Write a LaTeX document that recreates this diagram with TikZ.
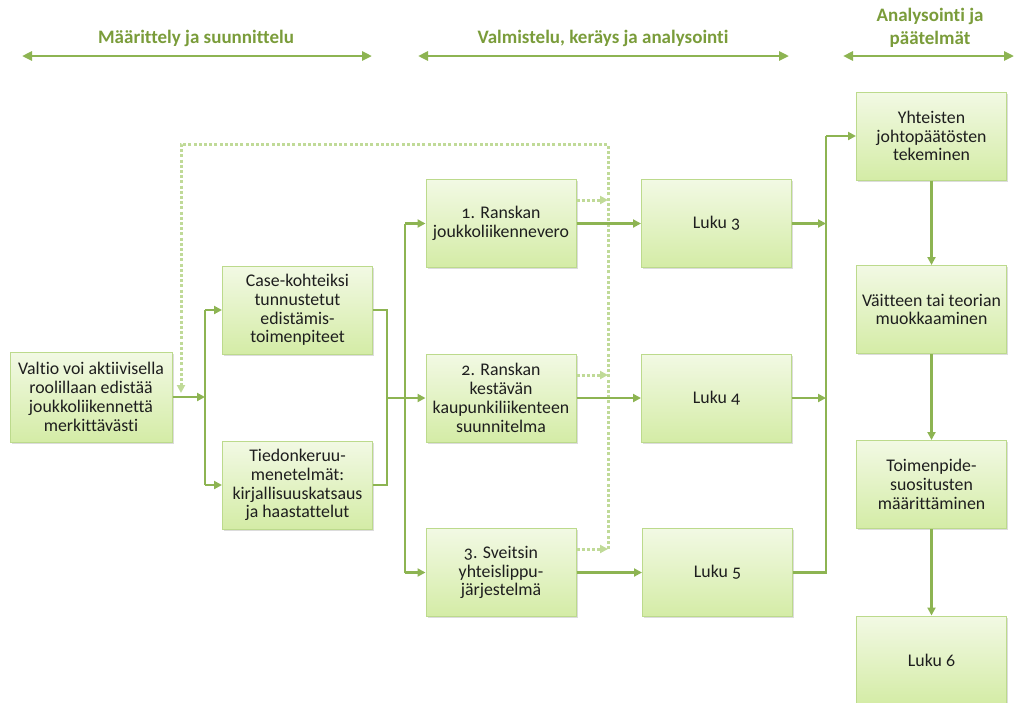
\documentclass[tikz,border=0pt]{standalone}
\usepackage{fontspec}
\setmainfont{Carlito}[Numbers=OldStyle, Ligatures=NoCommon]
\usetikzlibrary{arrows.meta,shadows,calc}
\definecolor{flowgreen}{RGB}{141,180,82}
\definecolor{headgreen}{RGB}{122,156,58}
\definecolor{dotgreen}{RGB}{192,218,152}
\definecolor{boxtop}{RGB}{242,249,228}
\definecolor{boxbot}{RGB}{212,236,166}
\definecolor{boxline}{RGB}{188,218,140}
\definecolor{textgray}{RGB}{30,30,30}
\begin{document}
\begin{tikzpicture}[x=1pt,y=-1pt,
  stage/.style={draw=boxline, line width=1pt, top color=boxtop, bottom color=boxbot,
    align=center, font=\fontsize{17.8}{18.8}\selectfont, text=textgray, inner sep=2pt,
    drop shadow={shadow xshift=1.5pt, shadow yshift=-1.5pt, opacity=0.3, fill=black!45}},
  wide/.style={minimum width=162pt, minimum height=90pt},
  std/.style={minimum width=150pt, minimum height=88pt},
  flow/.style={draw=flowgreen, line width=2.6pt, -{Triangle[length=8pt,width=8pt]}},
  wire/.style={draw=flowgreen, line width=2.6pt},
  loop/.style={draw=dotgreen, line width=3pt, dash pattern=on 3pt off 2.2pt},
  looparrow/.style={loop, -{Triangle[length=8pt,width=8pt]}},
  phase/.style={draw=flowgreen, line width=2.6pt, {Triangle[length=10pt,width=9pt]}-{Triangle[length=10pt,width=9pt]}},
  phasetext/.style={text=headgreen, font=\fontsize{19}{23}\selectfont\bfseries, align=center}
]
\useasboundingbox (0,0) rectangle (1016,702);

% phase headers
\node[phasetext] (h1) at (196,38) {Määrittely ja suunnittelu};
\node[phasetext] (h2) at (603,38) {Valmistelu, keräys ja analysointi};
\node[phasetext] (h3) at (930,28) {Analysointi ja\\päätelmät};
\coordinate (h1l) at (22,56);  \coordinate (h1r) at (372,56);
\coordinate (h2l) at (418,56); \coordinate (h2r) at (789,56);
\coordinate (h3l) at (843,56); \coordinate (h3r) at (1014,56);
\draw[phase] (h1l) -- (h1r);
\draw[phase] (h2l) -- (h2r);
\draw[phase] (h3l) -- (h3r);

% boxes
\node[stage, wide] (valtio) at (91,397) {Valtio voi aktiivisella\\roolillaan edistää\\joukkoliikennettä\\merkittävästi};
\node[stage, std] (case) at (297.5,310) {Case-kohteiksi\\tunnustetut\\edistämis-\\toimenpiteet};
\node[stage, std] (tied) at (297.5,485) {Tiedonkeruu-\\menetelmät:\\kirjallisuuskatsaus\\ja haastattelut};
\node[stage, std] (r1) at (501,223.5) {1. Ranskan\\joukkoliikennevero};
\node[stage, std] (r2) at (501,398) {2. Ranskan\\kestävän\\kaupunkiliikenteen\\suunnitelma};
\node[stage, std] (r3) at (501,572.5) {3. Sveitsin\\yhteislippu-\\järjestelmä};
\node[stage, std] (l3) at (716.5,223.5) {Luku 3};
\node[stage, std] (l4) at (716.5,398) {Luku 4};
\node[stage, std] (l5) at (717.5,572.5) {Luku 5};
\node[stage, std] (y1) at (931.5,136) {Yhteisten\\johtopäätösten\\tekeminen};
\node[stage, std] (v1) at (931.5,309.5) {Väitteen tai teorian\\muokkaaminen};
\node[stage, std] (t1) at (931.5,484.5) {Toimenpide-\\suositusten\\määrittäminen};
\node[stage, std] (l6) at (931.5,660) {Luku 6};

% bus lines
\coordinate (b1) at (205,0);
\coordinate (b2) at (387,0);
\coordinate (b3) at (405,0);
\coordinate (b4) at (826,0);
\coordinate (lp) at (608,144);
\coordinate (lq) at (181,144);
\coordinate (lend) at (181,393);
\coordinate (d1) at ($(r1.east)+(0,-23.5)$);
\coordinate (d2) at ($(r2.east)+(0,-23)$);
\coordinate (d3) at ($(r3.east)+(0,-23.5)$);

% hypothesis into definition boxes
\draw[flow] (valtio.east) -- (valtio.east -| b1);
\draw[wire] (case.west -| b1) -- (tied.west -| b1);
\draw[flow] (case.west -| b1) -- (case.west);
\draw[flow] (tied.west -| b1) -- (tied.west);

% definition boxes into cases
\draw[wire] (case.east) -- (case.east -| b2) -- (r2.west -| b2);
\draw[wire] (tied.east) -- (tied.east -| b2) -- (r2.west -| b2);
\draw[flow] (r2.west -| b2) -- (r2.west);
\draw[wire] (r1.west -| b3) -- (r3.west -| b3);
\draw[flow] (r1.west -| b3) -- (r1.west);
\draw[flow] (r3.west -| b3) -- (r3.west);

% feedback loop (dotted)
\draw[looparrow] (d3 -| lp) -- (lp) -- (lq) -- (lend);
\draw[looparrow] (d1) -- (d1 -| lp);
\draw[looparrow] (d2) -- (d2 -| lp);
\draw[looparrow] (d3) -- (d3 -| lp);

% cases into chapters
\draw[flow] (r1.east) -- (l3.west);
\draw[flow] (r2.east) -- (l4.west);
\draw[flow] (r3.east) -- (l5.west);

% chapters into conclusions
\draw[flow] (l3.east) -- (l3.east -| b4);
\draw[flow] (l4.east) -- (l4.east -| b4);
\draw[wire] (l5.east) -- (l5.east -| b4) -- (y1.west -| b4);
\draw[flow] (y1.west -| b4) -- (y1.west);

% conclusion chain
\draw[flow] (y1.south) -- (v1.north);
\draw[flow] (v1.south) -- (t1.north);
\draw[flow] (t1.south) -- (l6.north);
\end{tikzpicture}
\end{document}
